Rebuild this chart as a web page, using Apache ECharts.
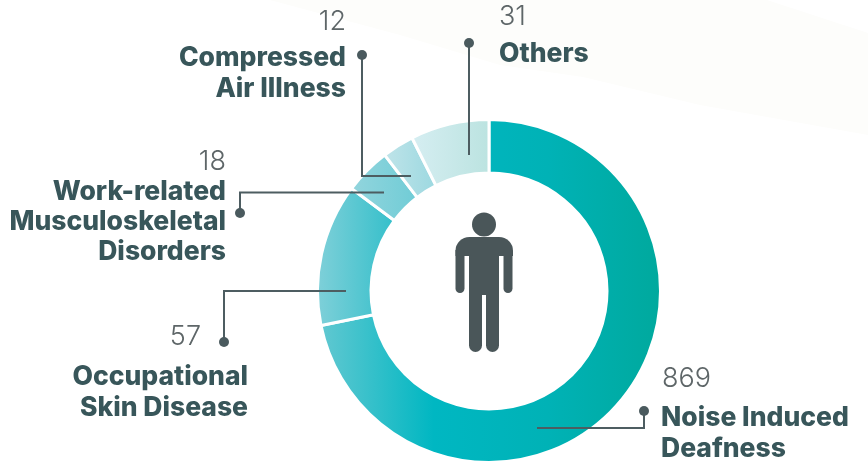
<!DOCTYPE html>
<html>
<head>
<meta charset="utf-8">
<style>html,body{margin:0;padding:0;background:#fff}#box{width:868px;height:461px}</style>
<script src="https://cdn.jsdelivr.net/npm/echarts@6/dist/echarts.min.js"></script>
</head>
<body>
<div id="box"></div>
<script>
// slice order runs clockwise from 12 o'clock
var categories = ['Noise Induced\nDeafness', 'Occupational\nSkin Disease', 'Work-related\nMusculoskeletal\nDisorders', 'Compressed\nAir Illness', 'Others']
var caseCounts = [869, 57, 18, 12, 31]
// the ring is not to scale with the counts, so these are the arc sizes read off the picture (degrees)
var sliceDegrees = [258.4, 48.3, 15.8, 10.8, 26.7]
var sliceColors = [
    ['#62c8d1', '#00b7c2', '#00b2b6', '#00a99d'],
    ['#80d0d9', '#33bfca'],
    ['#93d5dd', '#6fccd6'],
    ['#c0e4e9', '#9bd8e0'],
    ['#d6eef2', '#bbe3e0']
]

var chart = echarts.init(document.getElementById('box'))
var LABEL = '#38565a', NUM = '#5e6668', LINE = '#4d5d61', ICON = '#4a5659'

function grad(cols) {
    return {
        type: 'linear', x: 0, y: 0, x2: 1, y2: 0,
        colorStops: cols.map(function (c, i) { return { offset: i / (cols.length - 1), color: c } })
    }
}
function leader(points, dot) {
    return [
        { type: 'polyline', z: 10, shape: { points: points }, style: { stroke: LINE, lineWidth: 2, fill: null } },
        { type: 'circle', z: 10, shape: { cx: dot[0], cy: dot[1], r: 5 }, style: { fill: '#4a5a5e' } }
    ]
}
function nameText(i, x, y, align, lh) {
    return {
        type: 'text', z: 10, x: x, y: y,
        style: { text: categories[i], fill: LABEL, font: '800 26.5px Inter', lineHeight: lh || 31, align: align, verticalAlign: 'top' }
    }
}
function numText(i, x, y, align) {
    return {
        type: 'text', z: 10, x: x, y: y,
        style: { text: String(caseCounts[i]), fill: NUM, font: '300 27px Inter', align: align, verticalAlign: 'top' }
    }
}
function block(x, y, w, h, r) {
    return { type: 'rect', z: 5, shape: { x: x, y: y, width: w, height: h, r: r }, style: { fill: ICON } }
}

var graphics = [
    { type: 'polygon', z: -1, shape: { points: [[270, 0], [400, 35], [500, 65], [583, 77], [700, 105], [868, 135], [868, 33], [767, 0]] }, style: { fill: '#fdfdfb' } },
    // person
    { type: 'circle', z: 5, shape: { cx: 484, cy: 224.5, r: 12 }, style: { fill: ICON } },
    block(455.5, 237, 57.5, 19, [14, 14, 0, 0]),
    block(455.5, 250, 9, 43, [0, 0, 4.5, 4.5]),
    block(503.5, 250, 9, 43, [0, 0, 4.5, 4.5]),
    block(469, 245, 30, 50, 0),
    block(469, 290, 13, 62, [0, 0, 6.5, 6.5]),
    block(486, 290, 13, 62, [0, 0, 6.5, 6.5])
]
graphics = graphics
    .concat(leader([[644, 411], [644, 428], [537, 428]], [644, 411]))
    .concat(leader([[469, 43], [469, 155]], [469, 43]))
    .concat(leader([[362, 55], [362, 176], [411, 176]], [362, 55]))
    .concat(leader([[240, 213], [240, 192.5], [384, 192.5]], [240, 213]))
    .concat(leader([[224, 342], [224, 291], [346, 291]], [224, 342]))
    .concat([
        numText(0, 662, 365, 'left'), nameText(0, 661, 403, 'left'),
        numText(1, 201, 323, 'right'), nameText(1, 248, 362, 'right'),
        numText(2, 226, 148, 'right'), nameText(2, 226, 177, 'right', 30),
        numText(3, 346, 8, 'right'), nameText(3, 346, 43, 'right'),
        numText(4, 499, 3, 'left'), nameText(4, 499, 39, 'left')
    ])

var option = {
    backgroundColor: '#fff',
    animation: false,
    series: [{
        type: 'pie',
        center: [489, 291],
        radius: [118, 171.5],
        startAngle: 90,
        clockwise: true,
        silent: true,
        label: { show: false },
        labelLine: { show: false },
        itemStyle: { borderColor: '#fff', borderWidth: 3 },
        data: sliceDegrees.map(function (d, i) {
            return { name: categories[i], value: d, itemStyle: { color: grad(sliceColors[i]) } }
        })
    }],
    graphic: { elements: graphics }
}
chart.setOption(option)
</script>
</body>
</html>
